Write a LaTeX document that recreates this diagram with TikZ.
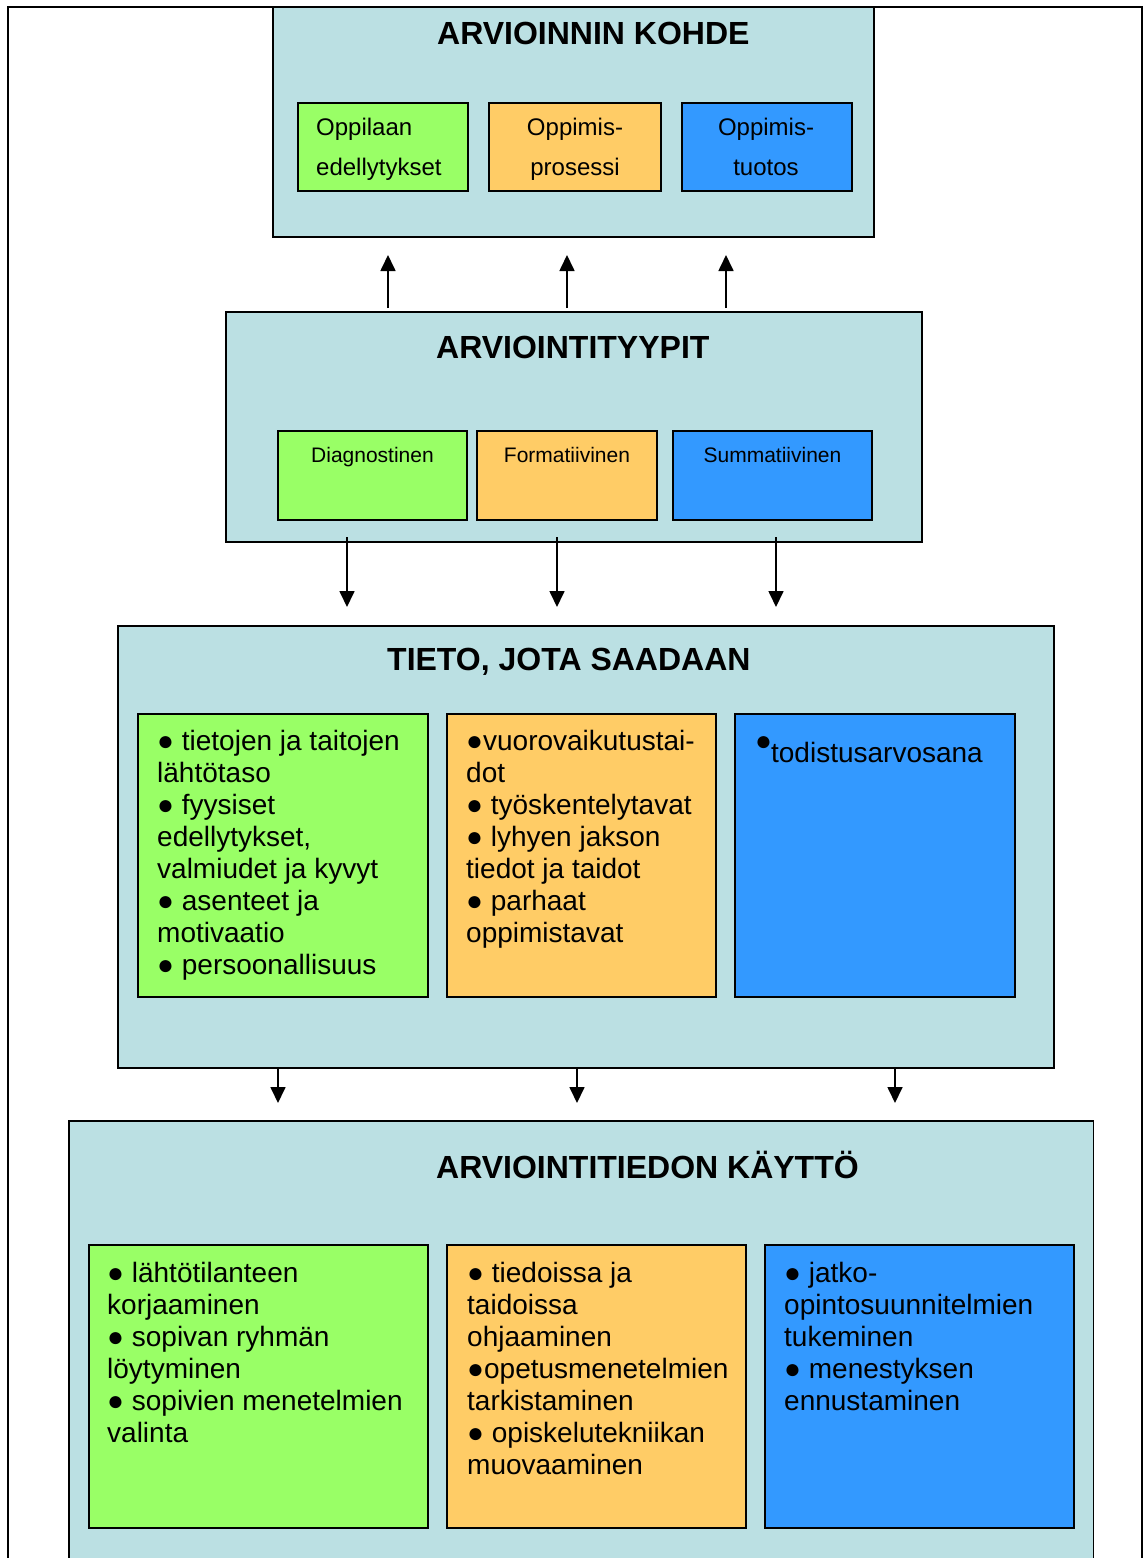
\documentclass[tikz,border=0pt]{standalone}
\usepackage{fontspec}
\setmainfont{Liberation Sans}
\usetikzlibrary{arrows.meta}
\definecolor{bgteal}{HTML}{BBE0E3}
\definecolor{cgreen}{HTML}{99FF66}
\definecolor{corange}{HTML}{FFCC66}
\definecolor{cblue}{HTML}{3399FF}
\newcommand\tbox[1]{\parbox[t]{420pt}{\raggedright\fontsize{28}{32}\selectfont #1}}
\newcommand\kbox[2]{\parbox[t]{200pt}{#1\fontsize{24}{40}\selectfont #2}}
\begin{document}
\begin{tikzpicture}[x=1pt,y=-1pt,
  bx/.style={draw=black,line width=1.5pt,anchor=north west,inner sep=0pt,outer sep=0pt},
  ttl/.style={anchor=base west,inner sep=0pt,font=\fontsize{32}{38}\selectfont\bfseries},
  txt/.style={anchor=base west,inner sep=0pt},
  ctxt/.style={anchor=base,inner sep=0pt},
  small/.style={anchor=base,inner sep=0pt,font=\fontsize{21}{25}\selectfont},
  arr/.style={line width=1.7pt,-{Triangle[length=16pt,width=15pt]}}]
\fill[white] (0,0) rectangle (1146,1558);
\useasboundingbox (0,0) rectangle (1146,1558);
% outer frame
\draw[line width=1.8pt] (8,1562) -- (8,7) -- (1142,7) -- (1142,1562);

% box 1
\node[bx,fill=bgteal,minimum width=601pt,minimum height=230pt] (b1) at (273,7) {};
\node[bx,fill=cgreen,minimum width=170pt,minimum height=88pt] (g1) at (298,103) {};
\node[bx,fill=corange,minimum width=172pt,minimum height=88pt] (o1) at (489,103) {};
\node[bx,fill=cblue,minimum width=170pt,minimum height=88pt] (c1) at (682,103) {};
\node[ttl] (t1) at (437,44) {ARVIOINNIN KOHDE};
\node[txt] (x1) at (316,135) {\kbox{\raggedright}{Oppilaan\\edellytykset}};
\node[ctxt] (x2) at (575,135) {\kbox{\centering}{Oppimis-\\prosessi}};
\node[ctxt] (x3) at (766,135) {\kbox{\centering}{Oppimis-\\tuotos}};

% box 2
\node[bx,fill=bgteal,minimum width=696pt,minimum height=230pt] (b2) at (226,312) {};
\node[bx,fill=cgreen,minimum width=189pt,minimum height=89pt] (g2) at (278,431) {};
\node[bx,fill=corange,minimum width=180pt,minimum height=89pt] (o2) at (477,431) {};
\node[bx,fill=cblue,minimum width=199pt,minimum height=89pt] (c2) at (673,431) {};
\node[ttl] (t2) at (436,358) {ARVIOINTITYYPIT};
\node[small] (y1) at (372.5,462) {Diagnostinen};
\node[small] (y2) at (567,462) {Formatiivinen};
\node[small] (y3) at (772.5,462) {Summatiivinen};

% box 3
\node[bx,fill=bgteal,minimum width=936pt,minimum height=442pt] (b3) at (118,626) {};
\node[bx,fill=cgreen,minimum width=290pt,minimum height=283pt] (g3) at (138,714) {};
\node[bx,fill=corange,minimum width=269pt,minimum height=283pt] (o3) at (447,714) {};
\node[bx,fill=cblue,minimum width=280pt,minimum height=283pt] (c3) at (735,714) {};
\node[ttl] (t3) at (387,670) {TIETO, JOTA SAADAAN};
\node[txt] (z1) at (157,750) {\tbox{● tietojen ja taitojen\\lähtötaso\\● fyysiset\\edellytykset,\\valmiudet ja kyvyt\\● asenteet ja\\motivaatio\\● persoonallisuus}};
\node[txt] (z2) at (466,750) {\tbox{●vuorovaikutustai-\\dot\\● työskentelytavat\\● lyhyen jakson\\tiedot ja taidot\\● parhaat\\oppimistavat}};
\node[txt] (z3) at (755,762) {\tbox{\raisebox{12pt}{●}\kern-1pt todistusarvosana}};

% box 4 (runs past the bottom edge)
\node[anchor=north west,inner sep=0pt,fill=bgteal,minimum width=1024pt,minimum height=445pt] (b4) at (69,1121) {};
\draw[line width=1.5pt] (b4.south west) -- (b4.north west) -- (b4.north east) -- (b4.south east);
\node[bx,fill=cgreen,minimum width=339pt,minimum height=283pt] (g4) at (89,1245) {};
\node[bx,fill=corange,minimum width=299pt,minimum height=283pt] (o4) at (447,1245) {};
\node[bx,fill=cblue,minimum width=309pt,minimum height=283pt] (c4) at (765,1245) {};
\node[ttl] (t4) at (436,1178) {ARVIOINTITIEDON KÄYTTÖ};
\node[txt] (w1) at (107,1282) {\tbox{● lähtötilanteen\\korjaaminen\\● sopivan ryhmän\\löytyminen\\● sopivien menetelmien\\valinta}};
\node[txt] (w2) at (467,1282) {\tbox{● tiedoissa ja\\taidoissa\\ohjaaminen\\●opetusmenetelmien\\tarkistaminen\\● opiskelutekniikan\\muovaaminen}};
\node[txt] (w3) at (784,1282) {\tbox{● jatko-\\opintosuunnitelmien\\tukeminen\\● menestyksen\\ennustaminen}};

% arrows
\coordinate (u1) at (388,255);
\coordinate (u2) at (567,255);
\coordinate (u3) at (726,255);
\draw[arr] ([yshift=4pt]b2.north -| u1) -- (u1);
\draw[arr] ([yshift=4pt]b2.north -| u2) -- (u2);
\draw[arr] ([yshift=4pt]b2.north -| u3) -- (u3);
\coordinate (d1) at (347,607);
\coordinate (d2) at (557,607);
\coordinate (d3) at (776,607);
\draw[arr] ([yshift=5pt]b2.south -| d1) -- (d1);
\draw[arr] ([yshift=5pt]b2.south -| d2) -- (d2);
\draw[arr] ([yshift=5pt]b2.south -| d3) -- (d3);
\coordinate (e1) at (278,1103);
\coordinate (e2) at (577,1103);
\coordinate (e3) at (895,1103);
\draw[arr] (b3.south -| e1) -- (e1);
\draw[arr] (b3.south -| e2) -- (e2);
\draw[arr] (b3.south -| e3) -- (e3);
\end{tikzpicture}
\end{document}
